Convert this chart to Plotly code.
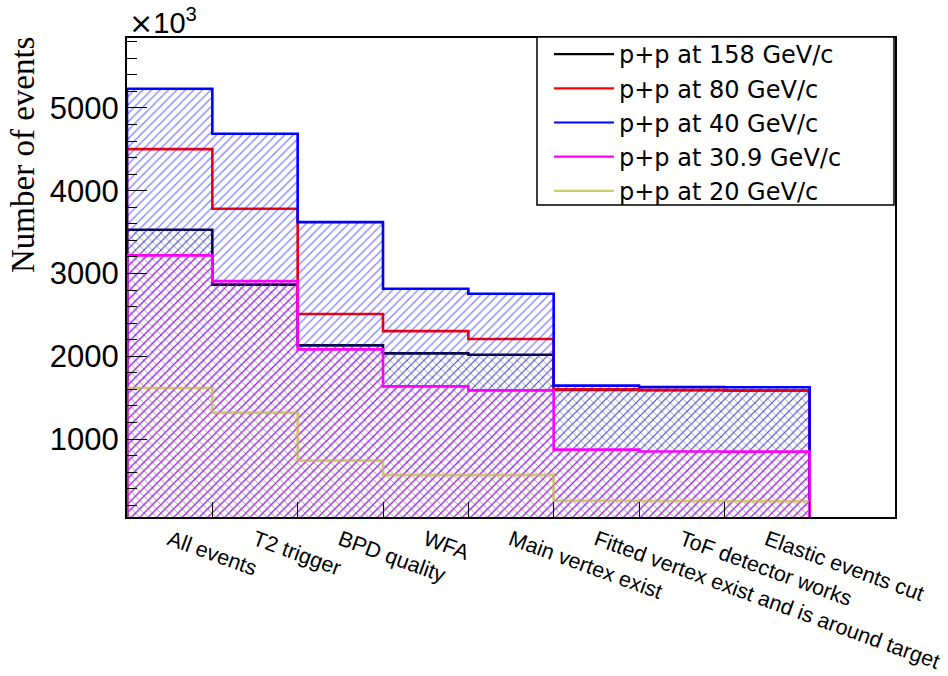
import plotly.graph_objects as go

# Event selection cut flow (events in thousands), one value per cut bin.
cuts = [
    "All events",
    "T2 trigger",
    "BPD quality",
    "WFA",
    "Main vertex exist",
    "Fitted vertex exist and is around target",
    "ToF detector works",
    "Elastic events cut",
    "",
]
events_158 = [3529, 2865, 2132, 2035, 2019, 1592, 1590, 1586, 0]
events_80 = [4502, 3783, 2510, 2304, 2208, 1600, 1596, 1590, 0]
events_40 = [5232, 4688, 3621, 2816, 2756, 1645, 1628, 1626, 0]
events_30_9 = [3219, 2908, 2083, 1636, 1588, 872, 850, 848, 0]
events_20 = [1616, 1319, 739, 565, 565, 255, 252, 248, 0]

y_ticks = [1000, 2000, 3000, 4000, 5000]

n_bins = len(cuts)
edges = list(range(n_bins + 1))
centers = [i + 0.5 for i in range(n_bins)]

W, H = 948, 676
L, R, T, B = 127, 53, 38, 159
PW, PH = W - L - R, H - T - B


def px_x(px):
    return (px - L) / PW


def px_y(py):
    return (H - B - py) / PH


def step_xy(values):
    xs = [0] + edges[:-1] + [edges[-1]]
    ys = [0] + list(values) + [values[-1]]
    return xs, ys


series = [
    # name, values, line colour, hatch shape, hatch colour, legend rank
    ("p+p at 158 GeV/c", events_158, "#0c0c40", "x", "#000000", 1),
    ("p+p at 80 GeV/c", events_80, "#ff0000", None, None, 2),
    ("p+p at 40 GeV/c", events_40, "#0000ff", "/", "#0000ff", 3),
    ("p+p at 20 GeV/c", events_20, "#cccc66", "x", "#aaa680", 5),
    ("p+p at 30.9 GeV/c", events_30_9, "#ff00ff", "/", "#ff00ff", 4),
]
legend_colors = {
    "p+p at 158 GeV/c": "#000000",
    "p+p at 80 GeV/c": "#ff0000",
    "p+p at 40 GeV/c": "#0000ff",
    "p+p at 30.9 GeV/c": "#ff00ff",
    "p+p at 20 GeV/c": "#cccc66",
}

fig = go.Figure()
for name, vals, lc, shape, hc, rank in series:
    xs, ys = step_xy(vals)
    kw = {}
    if shape:
        kw = dict(
            fill="tozeroy",
            fillcolor="rgba(0,0,0,0)",
            fillpattern=dict(shape=shape, fgcolor=hc, bgcolor="rgba(0,0,0,0)",
                             size=6, solidity=0.21, fillmode="overlay"),
        )
    fig.add_trace(go.Scatter(
        x=xs, y=ys, mode="lines", name=name, showlegend=False,
        line=dict(color=lc, width=2.6, shape="hv"),
        hoverinfo="skip", **kw,
    ))

# line-only legend entries
for name, vals, lc, shape, hc, rank in series:
    fig.add_trace(go.Scatter(
        x=[None], y=[None], mode="lines", name=name, legendrank=rank,
        line=dict(color=legend_colors[name], width=2.2),
    ))

# legend frame
fig.add_shape(type="rect", xref="paper", yref="paper", layer="above",
              x0=px_x(537), x1=px_x(894), y0=px_y(205), y1=px_y(37),
              fillcolor="white", line=dict(color="black", width=1.5))

fig.add_annotation(text="Number of events", xref="paper", yref="paper",
                   x=px_x(23), y=px_y(155), xanchor="center", yanchor="middle",
                   textangle=-90, showarrow=False,
                   font=dict(family="Liberation Serif", size=33, color="black"))
fig.add_annotation(text="<span style='font-family:DejaVu Sans'>×</span>10<sup>3</sup>",
                   xref="paper", yref="paper",
                   x=px_x(127), y=px_y(42), xanchor="left", yanchor="bottom",
                   showarrow=False,
                   font=dict(family="Liberation Sans", size=29, color="black"))

fig.update_layout(
    width=W, height=H,
    margin=dict(l=L, r=R, t=T, b=B, pad=0, autoexpand=False),
    paper_bgcolor="white", plot_bgcolor="white",
    showlegend=True,
    legend=dict(x=px_x(549), y=px_y(32), xanchor="left", yanchor="top",
                bgcolor="rgba(0,0,0,0)", borderwidth=0, itemwidth=60,
                font=dict(family="DejaVu Sans", size=24, color="black"),
                tracegroupgap=0),
    font=dict(family="Liberation Sans", color="black"),
)
fig.update_xaxes(
    range=[0, n_bins], showgrid=False, zeroline=False, automargin=False,
    showline=True, linecolor="black", linewidth=2, mirror=True,
    tickmode="array", tickvals=centers, ticktext=cuts,
    ticks="inside", ticklen=0, tickwidth=0.01, tickcolor="rgba(0,0,0,0)",
    ticklabeloverflow="allow",
    tickangle=20, tickfont=dict(family="Liberation Sans", size=21.5, color="black"),
    minor=dict(tickmode="array", tickvals=edges[1:-1], ticks="inside",
               ticklen=15, tickcolor="black", tickwidth=1.2, showgrid=False),
)
fig.update_yaxes(
    range=[58, 5845], showgrid=False, zeroline=False, automargin=False,
    showline=True, linecolor="black", linewidth=2, mirror=True,
    tickmode="array", tickvals=y_ticks, ticks="inside", ticklen=20,
    tickwidth=1.2, tickcolor="black",
    tickfont=dict(family="Liberation Sans", size=31, color="black"),
    minor=dict(dtick=200, tick0=0, ticks="inside", ticklen=10,
               tickcolor="black", tickwidth=1.2, showgrid=False),
)

fig.write_html("out.html")
